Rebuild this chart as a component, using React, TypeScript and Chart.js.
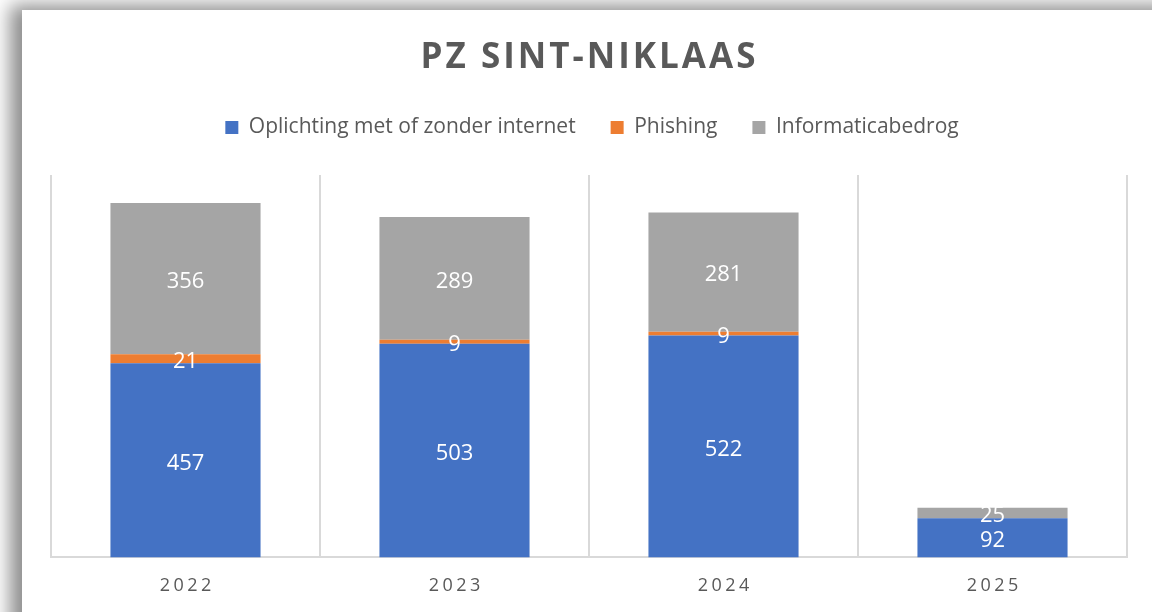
import React, { useEffect, useRef } from "react";
import { Chart, registerables } from "chart.js";

Chart.register(...registerables);

const titleText = "PZ SINT-NIKLAAS";
const categories = ["2022", "2023", "2024", "2025"];
const seriesNames = ["Oplichting met of zonder internet", "Phishing", "Informaticabedrog"];
const oplichting = [457, 503, 522, 92];
const phishing = [21, 9, 9, 0];
const informatica = [356, 289, 281, 25];
const seriesColors = ["#4472C4", "#ED7D31", "#A5A5A5"];
const yMax = 900;

const FONT = '"Open Sans", "Noto Sans", sans-serif';
const TEXT_COLOR = "#595959";
const GRID_COLOR = "#D9D9D9";

const CHART_TOP = 175;
const PAD_TOP = 82;

const extrasPlugin = {
  id: "extras",
  beforeInit(chart: any) {
    const legend = chart.legend;
    if (legend) {
      const orig = legend.fit.bind(legend);
      legend.fit = function () {
        orig();
        this.height = CHART_TOP - PAD_TOP;
      };
    }
  },
  afterLayout(chart: any) {
    const legend = chart.legend;
    if (legend) {
      legend.left += 3;
      legend.right += 3;
    }
  },
  afterDatasetsDraw(chart: any) {
    const ctx = chart.ctx;
    ctx.save();
    ctx.font = `22px ${FONT}`;
    ctx.fillStyle = "#FFFFFF";
    ctx.textAlign = "center";
    ctx.textBaseline = "middle";
    chart.data.datasets.forEach((ds: any, i: number) => {
      const meta = chart.getDatasetMeta(i);
      meta.data.forEach((bar: any, j: number) => {
        const v = ds.data[j];
        if (!v) return;
        const p = bar.getProps(["x", "y", "base"], true);
        ctx.fillText(String(v), p.x, (p.y + p.base) / 2 + 3);
      });
    });
    ctx.restore();
  },
  afterDraw(chart: any) {
    const ctx = chart.ctx;
    ctx.save();
    ctx.font = `bold 35px ${FONT}`;
    (ctx as any).letterSpacing = "3px";
    ctx.fillStyle = TEXT_COLOR;
    ctx.textAlign = "center";
    ctx.textBaseline = "middle";
    ctx.fillText(titleText, 588 + 1.5, 58);
    const xs = chart.scales.x;
    ctx.font = `18px ${FONT}`;
    (ctx as any).letterSpacing = "3.5px";
    categories.forEach((c, i) => {
      ctx.fillText(c, xs.getPixelForTick(i) + 1.75, 586);
    });
    ctx.restore();
  },
};

export default function App() {
  const ref = useRef<HTMLCanvasElement | null>(null);
  useEffect(() => {
    if (!ref.current) return;
    const chart = new Chart(ref.current, {
      type: "bar",
      data: {
        labels: categories,
        datasets: [
          { label: seriesNames[0], data: oplichting, backgroundColor: seriesColors[0] },
          { label: seriesNames[1], data: phishing, backgroundColor: seriesColors[1] },
          { label: seriesNames[2], data: informatica, backgroundColor: seriesColors[2] },
        ],
      },
      options: {
        responsive: false,
        animation: false,
        devicePixelRatio: 1,
        layout: { padding: { top: PAD_TOP, left: 51, right: 25, bottom: 15 } },
        datasets: { bar: { categoryPercentage: 0.558, barPercentage: 1 } } as any,
        plugins: {
          title: { display: false },
          tooltip: { enabled: false },
          legend: {
            display: true,
            position: "top",
            labels: {
              color: TEXT_COLOR,
              font: { family: FONT, size: 21 },
              boxWidth: 13,
              boxHeight: 13,
              padding: 35,
            },
          },
        },
        scales: {
          x: {
            stacked: true,
            grid: { display: true, color: GRID_COLOR, lineWidth: 2, drawTicks: false, offset: true },
            border: { display: true, color: GRID_COLOR, width: 2 },
            ticks: { color: "rgba(0,0,0,0)", font: { family: FONT, size: 18 }, padding: 9 },
          },
          y: {
            stacked: true,
            display: false,
            min: 0,
            max: yMax,
          },
        },
      },
      plugins: [extrasPlugin],
    });
    return () => chart.destroy();
  }, []);

  return (
    <div
      style={{
        position: "fixed",
        left: 0,
        top: 0,
        width: 1152,
        height: 612,
        overflow: "hidden",
        background: "#FFFFFF",
      }}
    >
      <div
        style={{
          position: "absolute",
          left: 22,
          top: 10,
          width: 1200,
          height: 700,
          background: "#FFFFFF",
          boxShadow: "-12px -5px 18px rgba(0,0,0,0.45)",
        }}
      />
      <canvas
        ref={ref}
        width={1152}
        height={612}
        style={{ position: "absolute", left: 0, top: 0, width: 1152, height: 612 }}
      />
    </div>
  );
}
